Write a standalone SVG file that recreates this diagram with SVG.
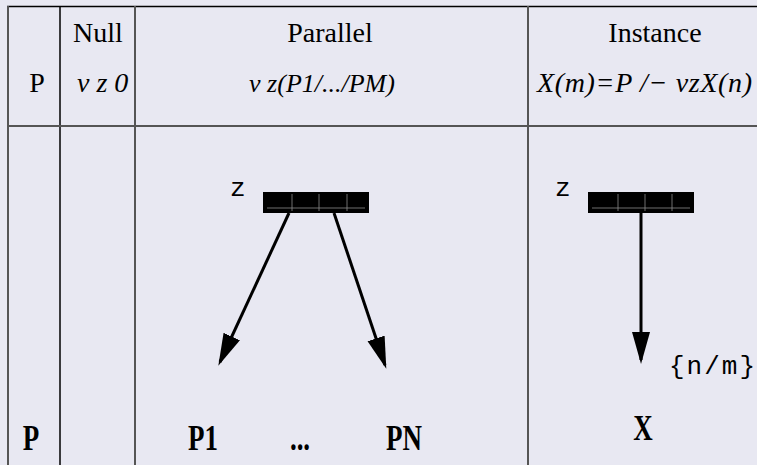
<svg xmlns="http://www.w3.org/2000/svg" width="757" height="465" viewBox="0 0 757 465">
<defs>
<style>
.hdr{font-family:'Liberation Serif','Times New Roman',Tinos,'DejaVu Serif',serif;font-size:28px;fill:#000}
.it{font-style:italic}
.mono{font-family:'Liberation Mono','Courier New',Cousine,monospace;font-size:26px;fill:#000}
.lbl{font-family:'Liberation Serif','Times New Roman',Tinos,serif;font-size:27px;font-weight:bold;fill:#000}
.grid{stroke:#555;stroke-width:2;fill:none}
.gridk{stroke:#000;stroke-width:1.5;fill:none}
.bar{fill:#000}
.barln{stroke:#8a8a8a;stroke-width:0.8;fill:none}
.arrow{stroke:#000;stroke-width:3;fill:none;marker-end:url(#head)}
</style>
<marker id="head" markerUnits="userSpaceOnUse" markerWidth="34" markerHeight="20" refX="28" refY="9" orient="auto">
<path d="M0,0 L32,9 L0,18 Z" fill="#000"/>
</marker>
</defs>
<rect width="757" height="465" fill="#e8e8f2"/>
<g id="grid">
<line class="gridk" x1="7" y1="6.5" x2="757" y2="6.5"/>
<line class="grid" x1="8" y1="6" x2="8" y2="465"/>
<line class="gridk" x1="60" y1="6" x2="60" y2="465"/>
<line class="grid" x1="135" y1="6" x2="135" y2="465"/>
<line class="grid" x1="528" y1="6" x2="528" y2="465"/>
<line class="grid" x1="8" y1="126" x2="757" y2="126"/>
</g>
<g id="header">
<text class="hdr" x="98" y="42" text-anchor="middle">Null</text>
<text class="hdr" x="330" y="42" text-anchor="middle">Parallel</text>
<text class="hdr" x="655" y="42" text-anchor="middle">Instance</text>
<text class="hdr" x="37" y="92" text-anchor="middle">P</text>
<text class="hdr it" x="77" y="92">v z 0</text>
<text class="hdr it" x="322" y="92" text-anchor="middle" style="font-size:26px">v z(P1/.../PM)</text>
<text class="hdr it" x="537" y="92" textLength="215">X(m)=P /− vzX(n)</text>
</g>
<g id="connectors">
<path class="arrow" d="M289,213 L220,362"/>
<path class="arrow" d="M334,213 L385,365"/>
<path class="arrow" d="M641,213 L641,360"/>
</g>
<g id="parallel-z">
<text class="mono" x="230" y="196">z</text>
<rect class="bar" x="263" y="192" width="106" height="21"/>
<path class="barln" d="M267,208 H365 M292,194 V211 M319,194 V211 M347,194 V211"/>
</g>
<g id="instance-z">
<text class="mono" x="555" y="196">z</text>
<rect class="bar" x="588" y="192" width="106" height="21"/>
<path class="barln" d="M592,208 H690 M618,194 V211 M645,194 V211 M672,194 V211"/>
</g>
<g id="subst">
<text class="mono" x="669" y="374" textLength="86">{n/m}</text>
</g>
<g id="row-p">
<text class="lbl" transform="translate(31,450) scale(1,1.3)" text-anchor="middle">P</text>
</g>
<g id="node-p1">
<text class="lbl" transform="translate(203,450) scale(1,1.3)" text-anchor="middle">P1</text>
</g>
<g id="node-dots">
<text class="lbl" transform="translate(300,450) scale(1,1.3)" text-anchor="middle">...</text>
</g>
<g id="node-pn">
<text class="lbl" transform="translate(404,450) scale(1,1.3)" text-anchor="middle">PN</text>
</g>
<g id="node-x">
<text class="lbl" transform="translate(643,440) scale(1,1.3)" text-anchor="middle">X</text>
</g>
</svg>
